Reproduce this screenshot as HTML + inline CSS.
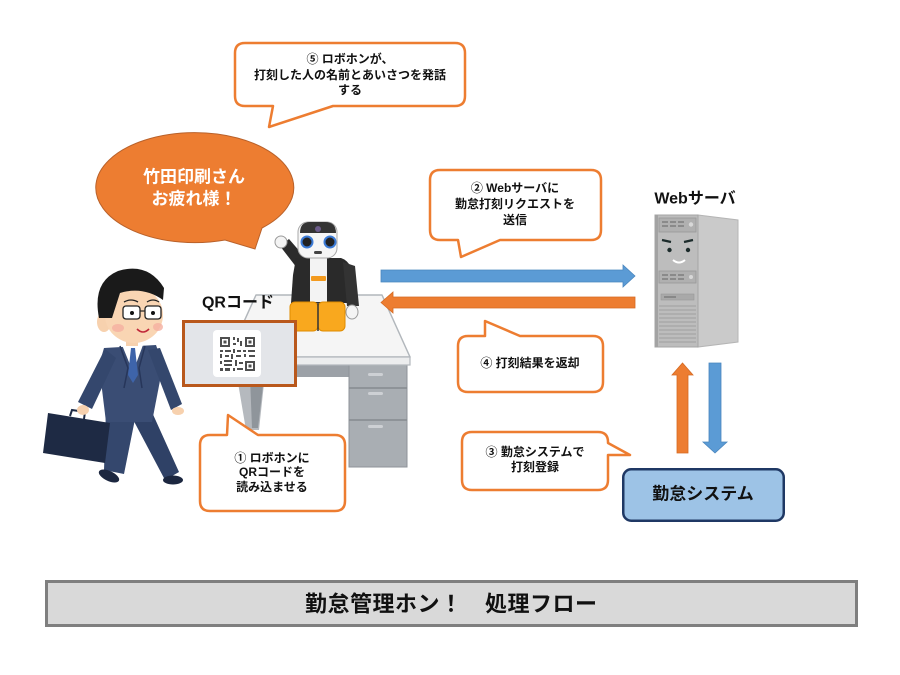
<!DOCTYPE html>
<html><head><meta charset="utf-8">
<style>
html,body{margin:0;padding:0;background:#fff;}
svg{display:block;}
text{font-family:"Liberation Sans","Noto Sans CJK JP",sans-serif;font-weight:bold;}
</style></head>
<body>
<svg width="900" height="675" viewBox="0 0 900 675" xmlns="http://www.w3.org/2000/svg">
<rect width="900" height="675" fill="#fff"/>

<!-- ===== DESK ===== -->
<rect x="235" y="362" width="116" height="15" fill="#9CA1A7"/>
<polygon points="235,365 266,365 259,430 246,430" fill="#B5B9BE"/>
<polygon points="250,377 264,377 258,428 252,428" fill="#8F959B"/>
<rect x="349" y="363" width="58" height="104" fill="#A9AEB3" stroke="#8E9399" stroke-width="1"/>
<line x1="349" y1="388" x2="407" y2="388" stroke="#858A90" stroke-width="1.5"/>
<line x1="349" y1="420" x2="407" y2="420" stroke="#858A90" stroke-width="1.5"/>
<rect x="368" y="373" width="15" height="3" rx="1.5" fill="#CDD0D4"/>
<rect x="368" y="392" width="15" height="3" rx="1.5" fill="#CDD0D4"/>
<rect x="368" y="425" width="15" height="3" rx="1.5" fill="#CDD0D4"/>
<polygon points="256,295 382,295 410,357 228,357" fill="#F5F5F5" stroke="#B2B7BC" stroke-width="1.5" stroke-linejoin="round"/>
<rect x="228" y="357" width="182" height="8" fill="#ECEDEE" stroke="#B2B7BC" stroke-width="1.2"/>

<!-- ===== ROBOT ===== -->
<polygon points="297,268 308,261 289,239 280,246" fill="#2B2B2B"/>
<circle cx="281" cy="242" r="6" fill="#F4F4F4" stroke="#9A9A9A" stroke-width="1"/>
<path d="M296,258 L341,258 Q354,262 357,290 L357,303 L291,303 L293,275 Z" fill="#2A2A2A"/>
<polygon points="343,262 355,266 359,306 347,306" fill="#333"/>
<ellipse cx="352" cy="312" rx="6" ry="7" fill="#F4F4F4" stroke="#9A9A9A" stroke-width="1"/>
<rect x="310" y="258" width="17" height="44" fill="#F3F3F3"/>
<rect x="311" y="276" width="15" height="5" rx="1" fill="#F39A1E"/>
<rect x="298" y="222" width="39" height="36" rx="10" fill="#F6F6F6" stroke="#A8A8A8" stroke-width="1"/>
<path d="M300,233 Q300,222 310,222 L325,222 Q336,222 336,233 Z" fill="#343434"/>
<circle cx="318" cy="229" r="3" fill="#6B5B8A"/>
<circle cx="307" cy="242" r="5.5" fill="#222" stroke="#3C7BD6" stroke-width="2"/>
<circle cx="330" cy="242" r="5.5" fill="#222" stroke="#3C7BD6" stroke-width="2"/>
<rect x="314" y="251" width="8" height="3" rx="1.5" fill="#444"/>
<rect x="290" y="302" width="28" height="29" rx="5" fill="#F9A81E" stroke="#E08C00" stroke-width="1"/>
<rect x="318" y="302" width="27" height="29" rx="5" fill="#F9A81E" stroke="#E08C00" stroke-width="1"/>
<line x1="318" y1="302" x2="318" y2="331" stroke="#333" stroke-width="1.5"/>

<!-- ===== QR FRAME ===== -->
<rect x="183.5" y="321.5" width="112" height="64" fill="#E3E5E9" stroke="#B9581C" stroke-width="3"/>
<rect x="213" y="330" width="48" height="47" rx="4" fill="#FFFFFF"/>
<g fill="#4F4F4F">
  <rect x="220" y="337" width="10" height="10"/><rect x="222" y="339" width="6" height="6" fill="#fff"/><rect x="223.5" y="340.5" width="3" height="3"/>
  <rect x="245" y="337" width="10" height="10"/><rect x="247" y="339" width="6" height="6" fill="#fff"/><rect x="248.5" y="340.5" width="3" height="3"/>
  <rect x="245" y="361" width="10" height="10"/><rect x="247" y="363" width="6" height="6" fill="#fff"/><rect x="248.5" y="364.5" width="3" height="3"/>
  <rect x="233" y="337" width="2" height="3"/><rect x="237" y="338" width="2" height="4"/><rect x="233" y="343" width="3" height="2"/><rect x="240" y="341" width="2" height="5"/>
  <rect x="220" y="350" width="3" height="2"/><rect x="225" y="350" width="6" height="2"/><rect x="233" y="349" width="2" height="4"/><rect x="237" y="350" width="4" height="2"/><rect x="243" y="350" width="3" height="2"/><rect x="248" y="350" width="7" height="2"/>
  <rect x="220" y="354" width="2" height="4"/><rect x="225" y="355" width="4" height="2"/><rect x="231" y="354" width="2" height="5"/><rect x="236" y="355" width="5" height="2"/><rect x="244" y="354" width="2" height="3"/><rect x="249" y="355" width="6" height="2"/>
  <rect x="220" y="361" width="2" height="3"/><rect x="224" y="360" width="8" height="2"/><rect x="224" y="364" width="8" height="2"/><rect x="235" y="360" width="2" height="6"/><rect x="239" y="362" width="4" height="2"/>
  <rect x="220" y="368" width="3" height="3"/><rect x="225" y="368" width="5" height="3"/><rect x="233" y="368" width="2" height="3"/><rect x="237" y="368" width="6" height="2"/>
</g>
<text x="238" y="303" font-size="16" text-anchor="middle" dominant-baseline="central" fill="#111">QRコード</text>

<!-- ===== PERSON ===== -->
<polygon points="128,410 151,410 179,472 165,480" fill="#2F4166"/>
<ellipse cx="173" cy="480" rx="10" ry="4.5" fill="#1C2740"/>
<polygon points="106,410 136,414 124,474 104,470" fill="#34476D"/>
<ellipse cx="109" cy="476" rx="11" ry="5" fill="#1C2740" transform="rotate(25 109 476)"/>
<polygon points="104,348 156,345 163,365 152,422 106,422 99,365" fill="#3A4D74"/>
<polygon points="105,349 116,358 92,409 78,402" fill="#34476D"/>
<polygon points="148,350 160,348 182,404 171,410" fill="#34476D"/>
<ellipse cx="178" cy="411" rx="6" ry="4" fill="#F7D1AE"/>
<polygon points="122,345 143,345 133,372" fill="#FFFFFF"/>
<polygon points="131,348 135,348 138,375 133,383 128,375" fill="#3E64AA"/>
<polyline points="120,346 128,368 124,388" fill="none" stroke="#27365A" stroke-width="1.5"/>
<polyline points="145,346 139,368 142,388" fill="none" stroke="#27365A" stroke-width="1.5"/>
<rect x="126" y="336" width="12" height="10" fill="#F7D1AE"/>
<ellipse cx="104" cy="322" rx="7" ry="10" fill="#F7D1AE"/>
<ellipse cx="134" cy="315" rx="29" ry="28" fill="#F9D5B3"/>
<path d="M99,318 Q92,282 118,271 Q148,262 164,288 L163,300 Q143,286 120,293 L112,318 Z" fill="#1A1A1A"/>
<ellipse cx="118" cy="328" rx="6" ry="4" fill="#F5AFA0" opacity="0.8"/>
<ellipse cx="158" cy="327" rx="5" ry="4" fill="#F5AFA0" opacity="0.8"/>
<rect x="123" y="306" width="17" height="13" rx="3" fill="#fff" stroke="#222" stroke-width="1.3"/>
<rect x="145" y="306" width="16" height="13" rx="3" fill="#fff" stroke="#222" stroke-width="1.3"/>
<line x1="140" y1="311" x2="145" y2="311" stroke="#222" stroke-width="1.2"/>
<circle cx="132" cy="313" r="2" fill="#111"/><circle cx="153" cy="313" r="2" fill="#111"/>
<path d="M124,302 Q131,298 138,302 M147,302 Q153,298 159,302" stroke="#222" stroke-width="1.3" fill="none"/>
<path d="M137,329 Q143,335 149,329" stroke="#C0283A" stroke-width="1.6" fill="none"/>
<polygon points="48,413 110,423 105,463 43,453" fill="#1E2A44"/>
<path d="M70,416 L72,410 L85,412 L84,419" fill="none" stroke="#1E2A44" stroke-width="2"/>
<ellipse cx="83" cy="410" rx="6" ry="5" fill="#F7D1AE"/>

<!-- ===== ORANGE SPEECH BUBBLE ===== -->
<path d="M262,228 L255,249 L225,240 A99,55 0 1 1 262,228 Z" fill="#ED7D31" stroke="#B9612A" stroke-width="1"/>
<text x="194" y="177" font-size="17" text-anchor="middle" dominant-baseline="central" fill="#fff">竹田印刷さん</text>
<text x="194" y="199" font-size="17" text-anchor="middle" dominant-baseline="central" fill="#fff">お疲れ様！</text>

<!-- ===== CALLOUTS ===== -->
<g fill="#fff" stroke="#ED7D31" stroke-width="2.5" stroke-linejoin="round">
<path d="M245,43 H455 Q465,43 465,53 V96 Q465,106 455,106 H333 L269,127 L273,106 H245 Q235,106 235,96 V53 Q235,43 245,43 Z"/>
<path d="M440,170 H591 Q601,170 601,180 V230 Q601,240 591,240 H500 L461,257 L458,240 H440 Q430,240 430,230 V180 Q430,170 440,170 Z"/>
<path d="M468,336 H485 L485,321 L520,336 H593 Q603,336 603,346 V382 Q603,392 593,392 H468 Q458,392 458,382 V346 Q458,336 468,336 Z"/>
<path d="M472,432 H598 Q608,432 608,442 V443 L630,455 L608,455 V480 Q608,490 598,490 H472 Q462,490 462,480 V442 Q462,432 472,432 Z"/>
<path d="M210,435 H227 L228,415 L258,435 H335 Q345,435 345,445 V501 Q345,511 335,511 H210 Q200,511 200,501 V445 Q200,435 210,435 Z"/>
</g>
<g font-size="12" text-anchor="middle" dominant-baseline="central" fill="#111">
<text x="350" y="59">⑤ ロボホンが、</text>
<text x="350" y="75">打刻した人の名前とあいさつを発話</text>
<text x="350" y="90">する</text>
<text x="515" y="188">② Webサーバに</text>
<text x="515" y="204">勤怠打刻リクエストを</text>
<text x="515" y="220">送信</text>
<text x="530" y="363">④ 打刻結果を返却</text>
<text x="535" y="452">③ 勤怠システムで</text>
<text x="535" y="467">打刻登録</text>
<text x="272" y="458">① ロボホンに</text>
<text x="272" y="472">QRコードを</text>
<text x="272" y="487">読み込ませる</text>
</g>

<!-- ===== ARROWS ===== -->
<polygon points="381,270 623,270 623,265 635,276 623,287 623,282 381,282" fill="#5B9BD5" stroke="#4A86BE" stroke-width="0.8"/>
<polygon points="635,297 393,297 393,292 381,302.5 393,313 393,308 635,308" fill="#ED7D31" stroke="#D56A22" stroke-width="0.8"/>
<polygon points="677,453 677,375 672,375 682.5,363 693,375 688,375 688,453" fill="#ED7D31" stroke="#D56A22" stroke-width="0.8"/>
<polygon points="709,363 721,363 721,442 727,442 715,453 703,442 709,442" fill="#5B9BD5" stroke="#4A86BE" stroke-width="0.8"/>

<!-- ===== SERVER ===== -->
<text x="695" y="199" font-size="16" text-anchor="middle" dominant-baseline="central" fill="#111">Webサーバ</text>
<polygon points="698,215 738,220 738,342 698,347" fill="#CACACA" stroke="#B5B5B5" stroke-width="1"/>
<rect x="655" y="215" width="43" height="132" fill="#BDBDBD" stroke="#A5A5A5" stroke-width="1"/>
<rect x="655" y="215" width="3" height="132" fill="#A3A3A3"/>
<rect x="659" y="218" width="37" height="14" fill="#B0B0B0" stroke="#999" stroke-width="0.8"/>
<g fill="#8A8A8A">
<rect x="662" y="221" width="6" height="2"/><rect x="670" y="221" width="6" height="2"/><rect x="678" y="221" width="6" height="2"/>
<rect x="662" y="225" width="6" height="2"/><rect x="670" y="225" width="6" height="2"/><rect x="678" y="225" width="6" height="2"/>
</g>
<circle cx="691" cy="224.5" r="2.2" fill="#D8D8D8"/>
<path d="M662,240 L671,242 M684,242 L693,240" stroke="#1C2B2B" stroke-width="2.2"/>
<circle cx="669.5" cy="250" r="2.2" fill="#1C2B2B"/><circle cx="688" cy="250" r="2.2" fill="#1C2B2B"/>
<path d="M673,260 Q679,265 685,260" stroke="#fff" stroke-width="2" fill="none"/>
<rect x="659" y="271" width="37" height="12" fill="#B0B0B0" stroke="#999" stroke-width="0.8"/>
<g fill="#8A8A8A">
<rect x="662" y="274" width="6" height="2"/><rect x="670" y="274" width="6" height="2"/><rect x="678" y="274" width="6" height="2"/>
<rect x="662" y="278" width="6" height="2"/><rect x="670" y="278" width="6" height="2"/><rect x="678" y="278" width="6" height="2"/>
</g>
<circle cx="691" cy="277" r="2" fill="#D8D8D8"/>
<rect x="661" y="294" width="33" height="6" fill="#A9A9A9" stroke="#999" stroke-width="0.6"/>
<rect x="664" y="296" width="12" height="2" fill="#888"/>
<g stroke="#A0A0A0" stroke-width="1">
<line x1="659" y1="306" x2="696" y2="306"/><line x1="659" y1="310" x2="696" y2="310"/><line x1="659" y1="314" x2="696" y2="314"/>
<line x1="659" y1="318" x2="696" y2="318"/><line x1="659" y1="322" x2="696" y2="322"/><line x1="659" y1="326" x2="696" y2="326"/>
<line x1="659" y1="330" x2="696" y2="330"/><line x1="659" y1="334" x2="696" y2="334"/><line x1="659" y1="338" x2="696" y2="338"/>
<line x1="659" y1="342" x2="696" y2="342"/>
</g>

<!-- ===== SYSTEM BOX ===== -->
<rect x="623.25" y="469.25" width="160.5" height="51.5" rx="8" fill="#9DC3E6" stroke="#1F3864" stroke-width="2.5"/>
<text x="703" y="494" font-size="17" text-anchor="middle" dominant-baseline="central" fill="#111">勤怠システム</text>

<!-- ===== BOTTOM BAR ===== -->
<rect x="46.5" y="581.5" width="810" height="44" fill="#D9D9D9" stroke="#7F7F7F" stroke-width="3"/>
<text x="305" y="604" font-size="22" dominant-baseline="central" fill="#111" textLength="292" lengthAdjust="spacing">勤怠管理ホン！　処理フロー</text>
</svg>
</body></html>
